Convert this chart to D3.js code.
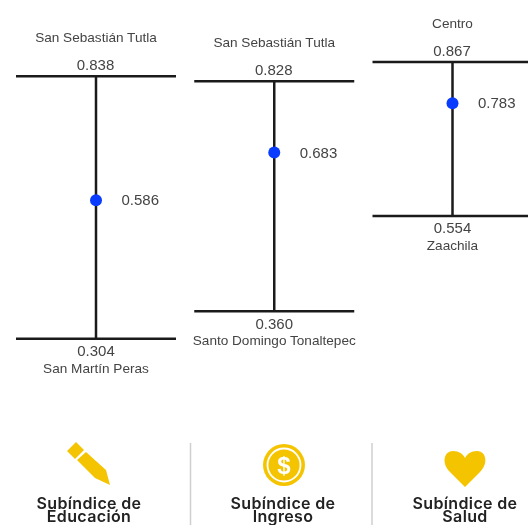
<!DOCTYPE html>
<html><head><meta charset="utf-8">
<script src="https://cdn.jsdelivr.net/npm/d3@7/dist/d3.min.js"></script>
<style>html,body{margin:0;padding:0;background:#fff;overflow:hidden}svg{display:block;filter:blur(0.45px)}text{font-family:"Liberation Sans",Arial,sans-serif}</style>
</head><body><svg id="c" width="528" height="525"></svg>
<script>
const panels = ["Educación","Ingreso","Salud"];
const maxValues = [0.838,0.828,0.867];
const meanValues = [0.586,0.683,0.783];
const minValues = [0.304,0.360,0.554];
const maxNames = ["San Sebastián Tutla","San Sebastián Tutla","Centro"];
const minNames = ["San Martín Peras","Santo Domingo Tonaltepec","Zaachila"];
const footerLabels = ["Subíndice de Educación","Subíndice de Ingreso","Subíndice de Salud"];

const svg = d3.select("#c");
const y = d3.scaleLinear().domain([0,1]).range([488.2,-3.3]);
const x = d3.scalePoint().domain(panels).range([96,452.5]);
const capHalf = 80;
const ink="#1a1a1a", txt="#444";

panels.forEach((p,i)=>{
  const g = svg.append("g"), cx=x(p);
  const hi=y(maxValues[i]), lo=y(minValues[i]), m=y(meanValues[i]);
  g.append("line").attr("x1",cx).attr("x2",cx).attr("y1",hi).attr("y2",lo).attr("stroke",ink).attr("stroke-width",2.5);
  [hi,lo].forEach(v=>g.append("line").attr("x1",cx-capHalf).attr("x2",cx+capHalf).attr("y1",v).attr("y2",v).attr("stroke",ink).attr("stroke-width",2.5));
  g.append("circle").attr("cx",cx).attr("cy",m).attr("r",6).attr("fill","#0a3cff");
  const t=(s,tx,ty,fs,a)=>g.append("text").attr("x",tx).attr("y",ty).attr("font-size",fs).attr("fill",txt).attr("text-anchor",a||"middle").text(s);
  const f=d3.format(".3f");
  t(f(maxValues[i]),cx-0.5,hi-6,15);
  t(f(minValues[i]),cx,lo+17.5,15);
  t(f(meanValues[i]),cx+25.5,m+5,15,"start");
  t(maxNames[i],cx,hi-34.5,13.6);
  t(minNames[i],cx,lo+34,13.6);
});

const fx=[89,283,465], fg=svg.append("g");
[190.5,372].forEach(v=>fg.append("line").attr("x1",v).attr("x2",v).attr("y1",443).attr("y2",525).attr("stroke","#cfcfcf").attr("stroke-width",1.5));
footerLabels.forEach((s,i)=>{
  const w=s.split(" ");
  const a=w.slice(0,2).join(" "), b=w.slice(2).join(" ");
  [[a,508.5],[b,522]].forEach(([l,ty])=>fg.append("text").attr("x",fx[i]).attr("y",ty).attr("text-anchor","middle")
    .attr("font-size",16).attr("font-weight",600).attr("letter-spacing",0.35).attr("fill","#222").style("font-family","Inter,'Noto Sans',sans-serif").text(l));
});
const gold="#f5c400";
fg.append("path").attr("fill",gold).attr("d","M76 442 L84 450 L75 459 L67 451 Z M86 452 L106 470 L110 485 L95 478 L77 460 Z");
fg.append("circle").attr("cx",284).attr("cy",465).attr("r",21).attr("fill",gold);
fg.append("circle").attr("cx",284).attr("cy",465).attr("r",16.5).attr("fill",gold).attr("stroke","#fff").attr("stroke-width",1.8);
fg.append("text").attr("x",284).attr("y",473.5).attr("text-anchor","middle").attr("font-size",24).attr("font-weight",700).attr("fill","#fff").text("$");
fg.append("path").attr("fill",gold).attr("d","M465 487 L450 472 C441 463 444 451 453 451 C459 451 463 454 465 458 C467 454 471 451 477 451 C486 451 489 463 480 472 Z");
</script></body></html>
